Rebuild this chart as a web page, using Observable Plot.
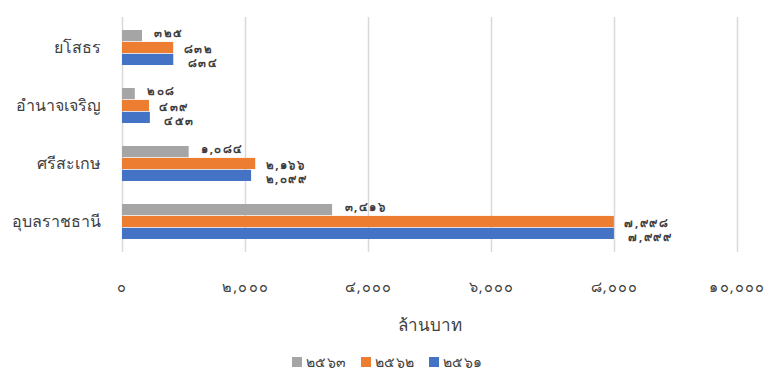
<!DOCTYPE html>
<html>
<head>
<meta charset="utf-8">
<script src="https://cdn.jsdelivr.net/npm/d3@7"></script>
<script src="https://cdn.jsdelivr.net/npm/@observablehq/plot@0.6"></script>
<style>
  body { margin: 0; background: #fff; font-family: Tahoma, "Noto Sans", "DejaVu Sans", sans-serif; color: #404040; }
  svg { display: block; }
  g[aria-label="text"] text { letter-spacing: 1.5px; }
  g[aria-label="x-axis tick label"] text { letter-spacing: 1.2px; }
  #title { margin-left: 122px; width: 615px; text-align: center; font-size: 17px; height: 26px; line-height: 26px; }
  #legend { display: flex; justify-content: center; gap: 14px; font-size: 14px; letter-spacing: 0.5px; height: 18px; line-height: 18px; margin-top: 15px; align-items: center; padding-left: 4px; }
  #legend span.sw { display: inline-block; width: 10px; height: 10px; margin-right: 4px; }
</style>
</head>
<body>
<div id="chart"></div>
<div id="title"></div>
<div id="legend"></div>
<script>
const provinces = ["ยโสธร", "อำนาจเจริญ", "ศรีสะเกษ", "อุบลราชธานี"];
const seriesNames = ["2563", "2562", "2561"];
const values2563 = [325, 208, 1084, 3416];
const values2562 = [832, 439, 2166, 7998];
const values2561 = [834, 453, 2099, 7999];
const colors = ["#A5A5A5", "#ED7D31", "#4472C4"];
const xTicks = [0, 2000, 4000, 6000, 8000, 10000];
const axisTitle = "ล้านบาท";

const thaiDigits = "๐๑๒๓๔๕๖๗๘๙";
const toThai = s => String(s).replace(/[0-9]/g, d => thaiDigits[+d]);
const fmt = v => toThai(d3.format(",")(v));

const W = 770, H = 312, mTop = 17, mBottom = H - 252, mLeft = 122, mRight = 33;
const pIn = 0.39, pOut = 0.2;
const step = (H - mTop - mBottom) / (provinces.length - pIn + 2 * pOut);
const bw = step * (1 - pIn);
const seg = bw / 3;

const allSeries = [values2563, values2562, values2561];
const marks = [
  Plot.gridX(xTicks, {stroke: "#D9D9D9", strokeOpacity: 1, strokeWidth: 1.5})
];
allSeries.forEach((vals, i) => {
  const data = provinces.map((p, j) => ({province: p, value: vals[j]}));
  marks.push(Plot.barX(data, {
    x: "value", y: "province", fill: colors[i],
    insetTop: seg * i, insetBottom: seg * (2 - i)
  }));
  marks.push(Plot.text(data, {
    x: "value", y: "province", text: d => fmt(d.value),
    textAnchor: "start", dx: [12, 10, 14][i], dy: seg * (i - 1) + [-2.5, 1.5, 3.5][i],
    fill: "#404040", fontSize: 11.5, fontWeight: "bold"
  }));
});
marks.push(Plot.axisY({tickSize: 0, tickPadding: 22, fontSize: 16, label: null}));
marks.push(Plot.axisX(xTicks, {tickSize: 0, tickPadding: 29, fontSize: 14.5, tickFormat: fmt, label: null}));

const chart = Plot.plot({
  width: W, height: H,
  marginTop: mTop, marginBottom: mBottom, marginLeft: mLeft, marginRight: mRight,
  style: {fontFamily: "Tahoma, 'Noto Sans', 'DejaVu Sans', sans-serif", color: "#404040", background: "#fff"},
  x: {domain: [0, 10000]},
  y: {domain: provinces, paddingInner: pIn, paddingOuter: pOut},
  marks
});
document.getElementById("chart").appendChild(chart);
document.getElementById("title").textContent = axisTitle;

const legend = document.getElementById("legend");
seriesNames.forEach((s, i) => {
  const item = document.createElement("span");
  item.innerHTML = `<span class="sw" style="background:${colors[i]}"></span>${toThai(s)}`;
  legend.appendChild(item);
});
</script>
</body>
</html>
